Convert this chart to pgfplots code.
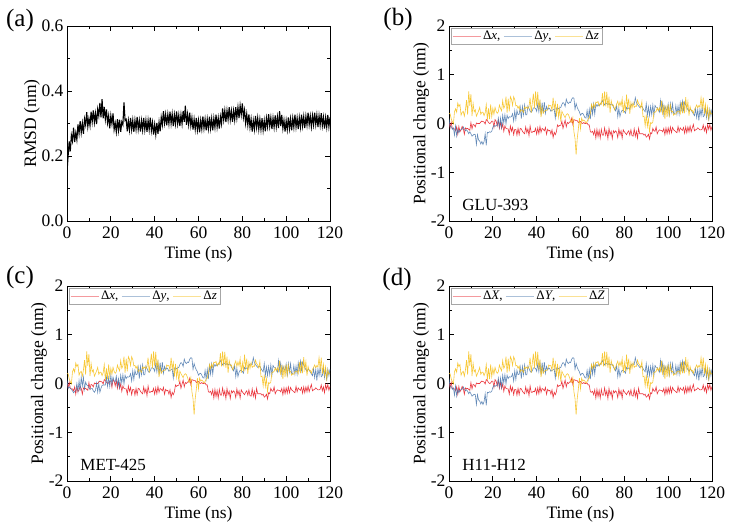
\documentclass[border=0pt]{standalone}
\usepackage{pgfplots}
\pgfplotsset{compat=1.18}
\usepackage{pgfplotstable}
\usepackage{fontspec}
\setmainfont{Liberation Serif}

\definecolor{cx}{RGB}{232,32,40}
\definecolor{cy}{RGB}{72,118,172}
\definecolor{cz}{RGB}{246,190,20}

\pgfplotstableread{
t r
0 0.150
0.5 0.199
1 0.245
1.5 0.214
2 0.264
2.5 0.246
3 0.287
3.5 0.243
4 0.271
4.5 0.250
5 0.297
5.5 0.269
6 0.307
6.5 0.272
7 0.301
7.5 0.268
8 0.314
8.5 0.296
9 0.335
9.5 0.290
10 0.315
10.5 0.293
11 0.336
11.5 0.305
12 0.340
12.5 0.303
13 0.331
13.5 0.298
14 0.344
14.5 0.324
15 0.363
15.5 0.319
16 0.375
16.5 0.316
17 0.351
17.5 0.313
18 0.343
18.5 0.302
19 0.324
19.5 0.285
20 0.324
20.5 0.299
21 0.331
21.5 0.281
22 0.301
22.5 0.274
23 0.313
23.5 0.279
24 0.312
24.5 0.274
25 0.305
25.5 0.296
26 0.365
26.5 0.309
27 0.313
27.5 0.276
28 0.309
28.5 0.280
29 0.317
29.5 0.281
30 0.310
30.5 0.274
31 0.310
31.5 0.282
32 0.320
32.5 0.282
33 0.309
33.5 0.275
34 0.309
34.5 0.280
35 0.317
35.5 0.281
36 0.310
36.5 0.274
37 0.310
37.5 0.281
38 0.318
38.5 0.278
39 0.303
39.5 0.266
40 0.297
40.5 0.266
41 0.302
41.5 0.268
42 0.304
42.5 0.276
43 0.319
43.5 0.296
44 0.338
44.5 0.301
45 0.328
45.5 0.294
46 0.328
46.5 0.299
47 0.336
47.5 0.300
48 0.329
48.5 0.292
49 0.327
49.5 0.299
50 0.337
50.5 0.299
51 0.326
51.5 0.292
52 0.327
52.5 0.299
53 0.339
53.5 0.305
54 0.355
54.5 0.296
55 0.328
55.5 0.297
56 0.333
56.5 0.293
57 0.318
57.5 0.281
58 0.313
58.5 0.282
59 0.317
59.5 0.280
60 0.309
60.5 0.273
61 0.310
61.5 0.283
62 0.322
62.5 0.285
63 0.313
63.5 0.279
64 0.313
64.5 0.284
65 0.321
65.5 0.285
66 0.315
66.5 0.279
67 0.316
67.5 0.288
68 0.327
68.5 0.289
69 0.317
69.5 0.284
70 0.321
70.5 0.299
71 0.346
71.5 0.311
72 0.340
72.5 0.304
73 0.340
73.5 0.312
74 0.350
74.5 0.312
75 0.339
75.5 0.305
76 0.339
76.5 0.311
77 0.350
77.5 0.317
78 0.350
78.5 0.317
79 0.355
79.5 0.327
80 0.362
80.5 0.319
81 0.341
81.5 0.301
82 0.329
82.5 0.295
83 0.328
83.5 0.288
84 0.314
84.5 0.275
85 0.309
85.5 0.282
86 0.323
86.5 0.288
87 0.317
87.5 0.282
88 0.313
88.5 0.281
89 0.316
89.5 0.279
90 0.309
90.5 0.276
91 0.316
91.5 0.290
92 0.329
92.5 0.291
93 0.318
93.5 0.283
94 0.317
94.5 0.288
95 0.325
95.5 0.290
96 0.320
96.5 0.286
97 0.338
97.5 0.292
98 0.326
98.5 0.285
99 0.310
99.5 0.275
100 0.309
100.5 0.281
101 0.319
101.5 0.284
102 0.314
102.5 0.279
103 0.316
103.5 0.288
104 0.327
104.5 0.289
105 0.317
105.5 0.283
106 0.318
106.5 0.289
107 0.327
107.5 0.292
108 0.321
108.5 0.286
109 0.322
109.5 0.295
110 0.333
110.5 0.296
111 0.323
111.5 0.290
112 0.324
112.5 0.296
113 0.333
113.5 0.297
114 0.326
114.5 0.289
115 0.324
115.5 0.295
116 0.332
116.5 0.293
117 0.319
117.5 0.284
118 0.318
118.5 0.289
119 0.326
119.5 0.290
120 0.319
}\rmsd

\pgfplotstableread{
t x y yc z
0.0 0.02 0.10 0.08 0.21
0.5 -0.09 -0.07 -0.10 0.20
1.0 0.03 -0.06 -0.07 0.10
1.5 -0.10 -0.12 -0.10 0.04
2.0 -0.11 -0.09 -0.12 -0.01
2.5 -0.11 -0.24 -0.15 0.24
3.0 -0.15 -0.05 -0.19 0.30
3.5 -0.07 -0.26 -0.16 0.23
4.0 -0.22 -0.12 -0.15 0.42
4.5 -0.06 -0.19 0.00 0.35
5.0 -0.17 -0.13 -0.17 0.39
5.5 -0.13 -0.13 0.06 0.17
6.0 -0.06 -0.12 -0.15 0.23
6.5 -0.10 -0.07 0.13 0.25
7.0 -0.22 -0.11 -0.05 0.15
7.5 -0.09 -0.15 0.13 0.28
8.0 -0.11 -0.13 -0.12 0.48
8.5 -0.10 -0.16 0.03 0.18
9.0 -0.12 -0.21 -0.03 0.66
9.5 -0.14 -0.17 -0.04 0.36
10.0 0.02 -0.21 -0.09 0.60
10.5 -0.11 -0.26 -0.12 0.15
11.0 -0.02 -0.24 -0.10 0.41
11.5 -0.03 -0.22 -0.10 0.24
12.0 -0.07 -0.23 -0.15 0.28
12.5 0.01 -0.43 -0.18 0.15
13.0 0.00 -0.23 -0.14 0.20
13.5 0.00 -0.34 0.01 0.26
14.0 0.00 -0.36 -0.18 0.33
14.5 0.03 -0.42 0.00 0.19
15.0 0.05 -0.37 -0.18 0.23
15.5 0.04 -0.43 -0.10 0.23
16.0 0.03 -0.37 -0.04 0.16
16.5 -0.01 -0.21 -0.03 0.22
17.0 0.08 -0.45 -0.03 0.39
17.5 0.06 -0.18 -0.03 0.07
18.0 0.02 -0.19 0.13 0.31
18.5 0.00 -0.17 -0.06 0.09
19.0 0.01 -0.18 0.12 0.39
19.5 0.05 -0.16 -0.06 0.14
20.0 0.05 -0.08 0.17 0.31
20.5 -0.08 -0.04 -0.02 0.19
21.0 0.08 -0.06 0.13 0.33
21.5 0.05 -0.04 0.05 0.25
22.0 -0.05 -0.05 0.04 0.21
22.5 0.07 0.11 0.15 0.24
23.0 -0.10 -0.08 -0.04 0.38
23.5 0.03 0.11 0.10 0.31
24.0 -0.10 -0.08 -0.08 0.26
24.5 -0.01 0.17 0.17 0.47
25.0 -0.16 0.01 0.01 0.31
25.5 -0.05 0.18 0.18 0.36
26.0 -0.10 -0.01 -0.01 0.55
26.5 -0.11 0.17 0.17 0.22
27.0 -0.11 0.10 0.10 0.51
27.5 -0.22 0.14 0.14 0.25
28.0 -0.05 0.13 0.13 0.55
28.5 -0.16 0.14 0.14 0.50
29.0 -0.08 0.20 0.20 0.37
29.5 -0.23 0.05 0.05 0.55
30.0 -0.12 0.26 0.26 0.49
30.5 -0.12 0.08 0.08 0.36
31.0 -0.24 0.27 0.27 0.37
31.5 -0.10 0.18 0.18 0.31
32.0 -0.23 0.19 0.19 0.36
32.5 -0.10 0.34 0.34 0.24
33.0 -0.11 0.10 0.10 0.28
33.5 -0.16 0.35 0.35 0.27
34.0 -0.19 0.18 0.18 0.23
34.5 -0.21 0.38 0.38 0.34
35.0 -0.07 0.18 0.18 0.31
35.5 -0.19 0.18 0.18 0.34
36.0 -0.11 0.36 0.36 0.30
36.5 -0.25 0.31 0.31 0.35
37.0 -0.05 0.25 0.25 0.53
37.5 -0.18 0.23 0.23 0.22
38.0 -0.18 0.26 0.26 0.42
38.5 -0.16 0.32 0.32 0.61
39.0 -0.17 0.32 0.32 0.31
39.5 -0.10 0.31 0.31 0.66
40.0 -0.22 0.25 0.25 0.35
40.5 -0.09 0.41 0.41 0.65
41.0 -0.21 0.24 0.24 0.28
41.5 -0.06 0.43 0.43 0.49
42.0 -0.18 0.18 0.18 0.13
42.5 -0.10 0.43 0.43 0.34
43.0 -0.12 0.21 0.21 0.21
43.5 -0.15 0.44 0.44 0.25
44.0 -0.08 0.21 0.21 0.27
44.5 -0.22 0.35 0.35 0.27
45.0 -0.12 0.28 0.28 0.28
45.5 -0.15 0.32 0.32 0.38
46.0 -0.14 0.30 0.30 0.36
46.5 -0.22 0.25 0.25 0.37
47.0 -0.13 0.27 0.27 0.27
47.5 -0.29 0.28 0.28 0.53
48.0 -0.18 0.30 0.30 0.30
48.5 -0.23 0.11 0.11 0.43
49.0 -0.17 0.32 0.32 0.14
49.5 -0.03 0.32 0.32 0.40
50.0 -0.06 0.30 0.30 0.13
50.5 -0.04 0.32 0.32 0.31
51.0 -0.04 0.33 0.33 0.04
51.5 0.05 0.39 0.39 0.25
52.0 -0.10 0.43 0.43 0.20
52.5 -0.01 0.41 0.41 0.16
53.0 0.07 0.35 0.35 0.12
53.5 -0.07 0.50 0.50 0.18
54.0 0.02 0.43 0.43 0.20
54.5 0.00 0.41 0.41 0.18
55.0 0.03 0.44 0.44 0.12
55.5 0.03 0.43 0.43 0.05
56.0 0.11 0.50 0.50 0.02
56.5 -0.02 0.53 0.53 0.12
57.0 0.08 0.52 0.52 -0.17
57.5 0.07 0.29 0.29 -0.31
58.0 0.06 0.41 0.41 -0.64
58.5 0.06 0.33 0.33 -0.31
59.0 0.02 0.28 0.28 -0.12
59.5 0.04 0.24 0.24 0.11
60.0 0.04 0.17 0.17 -0.11
60.5 0.01 0.20 0.20 0.11
61.0 0.00 0.21 0.21 0.05
61.5 0.02 0.17 0.17 0.07
62.0 0.00 0.12 0.12 0.05
62.5 0.00 0.11 0.11 0.01
63.0 0.01 0.27 0.27 0.04
63.5 -0.03 0.09 0.09 0.09
64.0 -0.03 0.29 0.29 0.11
64.5 -0.17 0.09 0.09 0.21
65.0 -0.18 0.37 0.37 0.39
65.5 -0.16 0.19 0.19 0.31
66.0 -0.23 0.40 0.40 0.40
66.5 -0.13 0.19 0.19 0.33
67.0 -0.30 0.40 0.40 0.44
67.5 -0.12 0.35 0.35 0.43
68.0 -0.27 0.39 0.39 0.45
68.5 -0.14 0.36 0.36 0.36
69.0 -0.30 0.39 0.39 0.42
69.5 -0.12 0.43 0.43 0.39
70.0 -0.24 0.47 0.47 0.62
70.5 -0.24 0.42 0.42 0.35
71.0 -0.09 0.38 0.38 0.66
71.5 -0.24 0.42 0.42 0.35
72.0 -0.15 0.41 0.41 0.65
72.5 -0.31 0.39 0.39 0.32
73.0 -0.10 0.41 0.41 0.55
73.5 -0.23 0.38 0.38 0.22
74.0 -0.16 0.40 0.40 0.47
74.5 -0.31 0.39 0.39 0.37
75.0 -0.15 0.34 0.34 0.38
75.5 -0.19 0.30 0.30 0.28
76.0 -0.15 0.26 0.26 0.33
76.5 -0.18 0.37 0.37 0.40
77.0 -0.29 0.14 0.14 0.46
77.5 -0.11 0.31 0.31 0.35
78.0 -0.23 0.14 0.14 0.44
78.5 -0.15 0.23 0.23 0.36
79.0 -0.30 0.27 0.27 0.51
79.5 -0.13 0.26 0.26 0.22
80.0 -0.17 0.25 0.25 0.43
80.5 -0.20 0.21 0.21 0.25
81.0 -0.23 0.33 0.33 0.59
81.5 -0.18 0.30 0.30 0.32
82.0 -0.15 0.32 0.32 0.51
82.5 -0.24 0.30 0.30 0.20
83.0 -0.13 0.38 0.38 0.43
83.5 -0.25 0.40 0.40 0.31
84.0 -0.26 0.40 0.40 0.43
84.5 -0.11 0.39 0.39 0.33
85.0 -0.26 0.53 0.53 0.36
85.5 -0.16 0.43 0.43 0.35
86.0 -0.30 0.39 0.39 0.48
86.5 -0.10 0.36 0.36 0.41
87.0 -0.21 0.33 0.33 0.38
87.5 -0.21 0.35 0.35 0.32
88.0 -0.21 0.35 0.35 0.45
88.5 -0.21 0.31 0.31 0.14
89.0 -0.24 0.27 0.27 0.15
89.5 -0.22 0.24 0.24 -0.05
90.0 -0.28 0.41 0.41 0.18
90.5 -0.26 0.16 0.16 -0.06
91.0 -0.22 0.34 0.34 0.10
91.5 -0.32 0.16 0.16 -0.17
92.0 -0.19 0.35 0.35 0.02
92.5 -0.21 0.18 0.18 0.00
93.0 -0.10 0.38 0.38 0.03
93.5 -0.15 0.17 0.17 0.23
94.0 -0.16 0.37 0.37 0.23
94.5 -0.07 0.33 0.33 0.25
95.0 -0.21 0.33 0.33 0.32
95.5 -0.16 0.28 0.28 0.26
96.0 -0.13 0.23 0.23 0.32
96.5 -0.14 0.47 0.47 0.25
97.0 -0.14 0.27 0.27 0.47
97.5 -0.17 0.42 0.42 0.17
98.0 -0.10 0.19 0.19 0.38
98.5 -0.23 0.36 0.36 0.09
99.0 -0.09 0.29 0.29 0.37
99.5 -0.21 0.27 0.27 0.13
100.0 -0.09 0.40 0.40 0.39
100.5 -0.20 0.14 0.14 0.17
101.0 -0.07 0.41 0.41 0.38
101.5 -0.19 0.23 0.23 0.24
102.0 -0.08 0.41 0.41 0.25
102.5 -0.13 0.20 0.20 0.17
103.0 -0.15 0.20 0.20 0.20
103.5 -0.17 0.37 0.37 0.19
104.0 -0.19 0.19 0.19 0.24
104.5 -0.06 0.36 0.36 0.25
105.0 -0.17 0.19 0.19 0.26
105.5 -0.09 0.43 0.43 0.20
106.0 -0.12 0.28 0.28 0.44
106.5 -0.14 0.46 0.46 0.21
107.0 -0.08 0.27 0.27 0.45
107.5 -0.20 0.44 0.44 0.21
108.0 -0.07 0.38 0.38 0.54
108.5 -0.19 0.33 0.33 0.29
109.0 -0.07 0.28 0.28 0.45
109.5 -0.17 0.25 0.25 0.16
110.0 -0.05 0.29 0.29 0.35
110.5 -0.17 0.28 0.28 0.26
111.0 -0.09 0.23 0.23 0.27
111.5 -0.02 0.20 0.20 0.21
112.0 -0.15 0.16 0.16 0.29
112.5 -0.13 0.30 0.30 0.33
113.0 -0.12 0.12 0.12 0.38
113.5 -0.09 0.29 0.29 0.32
114.0 -0.11 0.06 0.06 0.37
114.5 -0.13 0.30 0.30 0.34
115.0 -0.13 0.16 0.16 0.53
115.5 -0.12 0.33 0.33 0.30
116.0 -0.03 0.14 0.14 0.53
116.5 -0.15 0.16 0.16 0.20
117.0 -0.07 0.31 0.31 0.39
117.5 -0.19 0.12 0.12 0.17
118.0 -0.02 0.29 0.29 0.34
118.5 -0.12 0.06 0.06 0.09
119.0 -0.02 0.29 0.29 0.28
119.5 -0.14 0.16 0.16 0.19
120.0 -0.06 0.30 0.30 0.21
}\pos

\pgfplotsset{
  panel/.style={
    scale only axis, width=263pt, height=195pt,
    xmin=0, xmax=120, xtick={0,20,...,120},
    minor x tick num=1, minor y tick num=1,
    tick align=inside, tick pos=both,
    major tick length=5pt, minor tick length=3pt,
    axis line style={line width=0.8pt},
    every tick/.style={black, line width=0.8pt},
    /pgf/number format/assume math mode=true,
    tick label style={font=\fontsize{17.5}{18}\selectfont},
    xticklabel style={yshift=-2pt},
    label style={font=\fontsize{17.5}{19}\selectfont},
    xlabel={Time (ns)},
    xlabel style={yshift=-1pt},
    ylabel style={yshift=-5pt},
  },
  pos/.style={
    panel, ymin=-2, ymax=2, ytick={-2,-1,0,1,2},
    ylabel={Positional change (nm)},
    legend columns=3,
    legend style={at={(0.008,0.99)}, anchor=north west, draw=gray!70,
      font=\fontsize{13}{14}\selectfont, inner sep=1pt, row sep=0pt,
      /tikz/every even column/.append style={column sep=1pt}},
    legend image code/.code={\draw[#1, line width=0.8pt, opacity=0.45] (0pt,0pt) -- (28pt,0pt);},
  },
  lx/.style={cx, line width=0.6pt, opacity=0.9},
  ly/.style={cy, line width=0.6pt, opacity=0.85},
  lz/.style={cz, line width=0.6pt, opacity=0.85},
}

\begin{document}
\begin{tikzpicture}
\path (0pt,0pt) rectangle (733pt,526pt);

% (a)
\begin{axis}[panel, at={(67pt,305pt)}, anchor=south west,
  ymin=0, ymax=0.6, ytick={0,0.2,0.4,0.6},
  yticklabel style={/pgf/number format/.cd, fixed, fixed zerofill, precision=1},
  ylabel={RMSD (nm)}]
\addplot[black, line width=1.1pt] table[x=t, y=r] {\rmsd};
\end{axis}

% (b)
\begin{axis}[pos, at={(449pt,305pt)}, anchor=south west]
\addplot[lx] table[x=t, y=x] {\pos};
\addlegendentry{Δ\textit{x},}
\addplot[ly] table[x=t, y=y] {\pos};
\addlegendentry{Δ\textit{y},}
\addplot[lz] table[x=t, y=z] {\pos};
\addlegendentry{Δ\textit{z}}
\node[anchor=west, font=\fontsize{17}{18}\selectfont] at (axis cs:4.5,-1.67) {GLU-393};
\end{axis}

% (c)
\begin{axis}[pos, at={(67pt,45pt)}, anchor=south west]
\addplot[lx] table[x=t, y=x] {\pos};
\addlegendentry{Δ\textit{x},}
\addplot[ly] table[x=t, y=yc] {\pos};
\addlegendentry{Δ\textit{y},}
\addplot[lz] table[x=t, y=z] {\pos};
\addlegendentry{Δ\textit{z}}
\node[anchor=west, font=\fontsize{17}{18}\selectfont] at (axis cs:4.5,-1.67) {MET-425};
\end{axis}

% (d)
\begin{axis}[pos, at={(449pt,45pt)}, anchor=south west]
\addplot[lx] table[x=t, y=x] {\pos};
\addlegendentry{Δ\textit{X},}
\addplot[ly] table[x=t, y=y] {\pos};
\addlegendentry{Δ\textit{Y},}
\addplot[lz] table[x=t, y=z] {\pos};
\addlegendentry{Δ\textit{Z}}
\node[anchor=west, font=\fontsize{17}{18}\selectfont] at (axis cs:4.5,-1.67) {H11-H12};
\end{axis}

\node[font=\fontsize{25}{27}\selectfont] at (20pt,506pt) {(a)};
\node[font=\fontsize{25}{27}\selectfont] at (398pt,507pt) {(b)};
\node[font=\fontsize{25}{27}\selectfont] at (20pt,249pt) {(c)};
\node[font=\fontsize{25}{27}\selectfont] at (397pt,247pt) {(d)};
\end{tikzpicture}
\end{document}
